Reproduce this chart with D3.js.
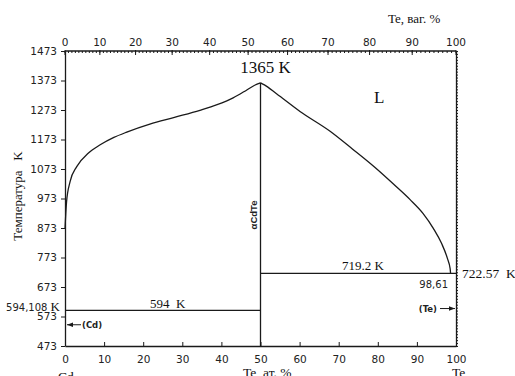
<!DOCTYPE html>
<html>
<head>
<meta charset="utf-8">
<script src="https://cdn.jsdelivr.net/npm/d3@7"></script>
<style>
  html, body { margin: 0; padding: 0; background: #fff; }
  svg { display: block; }
  .serif { font-family: "Liberation Serif", "Times New Roman", serif; fill: #111; }
  .sans { font-family: "DejaVu Sans", sans-serif; fill: #222; }
</style>
</head>
<body>
<svg id="chart" width="515" height="376"></svg>
<script>
// Cd–Te phase diagram: composition in at.% Te (bottom) and wt.% Te (top)
const atTicks = [0, 10, 20, 30, 40, 50, 60, 70, 80, 90, 100];
const wtTicks = [0, 10, 20, 30, 40, 50, 60, 70, 80, 90, 100];
const tempTicks = [473, 573, 673, 773, 873, 973, 1073, 1173, 1273, 1373, 1473];

// liquidus, Cd-rich branch (at.% Te, K)
const liqCdAt = [0, 0.4, 1.3, 3.0, 6.0, 9.0, 12.5, 15.8, 21.7, 28, 34.5, 38.9, 43, 46.5, 48.5, 50];
const liqCdT  = [870, 962, 1030, 1081, 1127, 1155, 1180, 1198, 1225, 1248, 1272, 1291, 1314, 1341, 1357, 1365];
// liquidus, Te-rich branch (at.% Te, K)
const liqTeAt = [50, 51, 54.1, 60.1, 67.8, 73.5, 79.3, 84.0, 88.2, 91.6, 94.2, 96.3, 97.8, 98.5, 98.61];
const liqTeT  = [1365, 1358, 1328, 1268, 1201, 1141, 1078, 1022, 970, 922, 872, 821, 770, 735, 719.2];

// invariant points
const compoundAt = 50, compoundT = 1365;
const cdEutecticT = 594, cdMeltLabel = "594,108";
const teEutecticT = 719.2, teEutecticAt = 98.61, teMeltT = 722.57;

// atomic masses for wt.% -> at.% conversion of the top scale
const massCd = 112.41, massTe = 127.60;
const wtToAt = w => 100 * (w / massTe) / (w / massTe + (100 - w) / massCd);

const svg = d3.select("#chart");
const x = d3.scaleLinear().domain([0, 100]).range([65, 456]);
const y = d3.scaleLinear().domain([473, 1473]).range([346, 51]);

const ink = "#1a1a1a";

// arrow head
svg.append("defs").append("marker")
  .attr("id", "head").attr("viewBox", "0 0 8 6").attr("refX", 8).attr("refY", 3)
  .attr("markerWidth", 6).attr("markerHeight", 5).attr("orient", "auto")
  .append("path").attr("d", "M0,0L8,3L0,6Z").attr("fill", ink);

// ---- axes ----
function styleAxis(g) {
  g.selectAll("path.domain").attr("stroke", ink).attr("stroke-width", 1.3);
  g.selectAll(".tick line").attr("stroke", ink).attr("stroke-width", 1);
}
const minorAt = d3.range(0, 101, 1);
const minorT = d3.range(473, 1474, 10);

// bottom (at.%)
const gB = svg.append("g").attr("transform", `translate(0,${y(473)})`);
gB.call(d3.axisBottom(x).tickValues(minorAt).tickSize(-2).tickFormat(""));
gB.call(d3.axisBottom(x).tickValues(atTicks).tickSizeInner(-4).tickSizeOuter(0).tickPadding(10).tickFormat(d3.format("d")));
styleAxis(gB);
gB.selectAll(".tick text").attr("class", "sans").attr("font-size", 10.5).style("font-family", "DejaVu Sans");

// left (temperature)
const gL = svg.append("g").attr("transform", `translate(${x(0)},0)`);
gL.call(d3.axisLeft(y).tickValues(minorT).tickSize(2).tickFormat(""));
gL.call(d3.axisLeft(y).tickValues(tempTicks).tickSizeInner(4).tickSizeOuter(0).tickPadding(4).tickFormat(d3.format("d")));
styleAxis(gL);
gL.selectAll(".tick text").style("font-family", "DejaVu Sans").attr("font-size", 10.5).attr("fill", "#222");

// right frame
const gR = svg.append("g").attr("transform", `translate(${x(100)},0)`);
gR.call(d3.axisRight(y).tickValues(minorT).tickSize(2).tickSizeOuter(0).tickFormat(""));
styleAxis(gR);

// top (wt.%), positioned through the at.% scale
const gT = svg.append("g");
gT.append("line").attr("x1", x(0)).attr("x2", x(100)).attr("y1", y(1473)).attr("y2", y(1473))
  .attr("stroke", ink).attr("stroke-width", 1.3);
gT.selectAll("line.minor").data(d3.range(0, 101, 1)).join("line").attr("class", "minor")
  .attr("x1", d => x(wtToAt(d))).attr("x2", d => x(wtToAt(d)))
  .attr("y1", y(1473)).attr("y2", y(1473) + 2).attr("stroke", ink).attr("stroke-width", 1);
gT.selectAll("line.major").data(wtTicks).join("line").attr("class", "major")
  .attr("x1", d => x(wtToAt(d))).attr("x2", d => x(wtToAt(d)))
  .attr("y1", y(1473) - 1).attr("y2", y(1473) + 4).attr("stroke", ink).attr("stroke-width", 1);
gT.selectAll("text").data(wtTicks).join("text")
  .attr("class", "sans").attr("font-size", 10.5).attr("text-anchor", "middle")
  .attr("x", d => x(wtToAt(d))).attr("y", y(1473) - 5).text(d => d);

// ---- phase boundaries ----
const line = d3.line().x(d => x(d[0])).y(d => y(d[1])).curve(d3.curveMonotoneX);
const liqCd = liqCdAt.map((a, i) => [a, liqCdT[i]]);
const liqTe = liqTeAt.map((a, i) => [a, liqTeT[i]]);
[liqCd, liqTe].forEach(pts => svg.append("path").attr("d", line(pts))
  .attr("fill", "none").attr("stroke", ink).attr("stroke-width", 1.3));

// CdTe compound line
svg.append("line").attr("x1", x(compoundAt)).attr("x2", x(compoundAt))
  .attr("y1", y(compoundT)).attr("y2", y(473)).attr("stroke", ink).attr("stroke-width", 1.3);
// Cd-side eutectic / Te-side eutectic
svg.append("line").attr("x1", x(0)).attr("x2", x(compoundAt))
  .attr("y1", y(cdEutecticT)).attr("y2", y(cdEutecticT)).attr("stroke", ink).attr("stroke-width", 1.3);
svg.append("line").attr("x1", x(compoundAt)).attr("x2", x(100))
  .attr("y1", y(teEutecticT)).attr("y2", y(teEutecticT)).attr("stroke", ink).attr("stroke-width", 1.3);

// ---- labels ----
svg.append("text").attr("class", "serif").attr("font-size", 17).attr("text-anchor", "middle")
  .attr("x", x(compoundAt) + 5).attr("y", 73).text(`${compoundT} K`);
svg.append("text").attr("class", "serif").attr("font-size", 17)
  .attr("x", 374).attr("y", 103).text("L");
svg.append("text").attr("class", "serif").attr("font-size", 13)
  .attr("x", 388).attr("y", 23).text("Te, ваг. %");

svg.append("text").attr("class", "serif").attr("font-size", 13).attr("text-anchor", "middle")
  .attr("transform", `translate(22,196) rotate(-90)`).style("white-space", "pre")
  .text("Температура   K");

svg.append("text").attr("class", "sans").attr("font-weight", "bold").attr("font-size", 9.5)
  .attr("text-anchor", "middle").style("font-family", "Liberation Sans")
  .attr("transform", `translate(${x(compoundAt) - 4},215) rotate(-90)`).text("αCdTe");

const cdLbl = svg.append("text").attr("x", 60).attr("y", y(cdEutecticT) + 1).attr("text-anchor", "end");
cdLbl.append("tspan").attr("class", "sans").attr("font-size", 10).text(cdMeltLabel + " ");
cdLbl.append("tspan").attr("class", "serif").attr("font-size", 13).text("K");

svg.append("text").attr("class", "serif").attr("font-size", 13).style("white-space", "pre")
  .attr("x", 150).attr("y", y(cdEutecticT) - 2).text(`${cdEutecticT}  K`);
svg.append("text").attr("class", "serif").attr("font-size", 13)
  .attr("x", 342).attr("y", y(teEutecticT) - 3).text(`${teEutecticT} K`);
svg.append("text").attr("class", "serif").attr("font-size", 13.5).style("white-space", "pre")
  .attr("x", 462).attr("y", y(teEutecticT) + 5).text(`${teMeltT}  K`);
svg.append("text").attr("class", "sans").attr("font-size", 10).attr("text-anchor", "end")
  .attr("x", 448).attr("y", y(teEutecticT) + 15).text(String(teEutecticAt).replace(".", ","));

// pure-element markers
const cdArrowY = y(545);
svg.append("line").attr("x1", 81).attr("x2", 67).attr("y1", cdArrowY).attr("y2", cdArrowY)
  .attr("stroke", ink).attr("stroke-width", 1).attr("marker-end", "url(#head)");
svg.append("text").attr("class", "sans").attr("font-weight", "bold").attr("font-size", 8.5)
  .attr("x", 82).attr("y", cdArrowY + 3).text("(Cd)");
const teArrowY = y(600);
svg.append("line").attr("x1", 440).attr("x2", 455).attr("y1", teArrowY).attr("y2", teArrowY)
  .attr("stroke", ink).attr("stroke-width", 1).attr("marker-end", "url(#head)");
svg.append("text").attr("class", "sans").attr("font-weight", "bold").attr("font-size", 8.5)
  .attr("text-anchor", "end").attr("x", 437).attr("y", teArrowY + 3).text("(Te)");

// bottom captions
svg.append("text").attr("class", "serif").attr("font-size", 13.5)
  .attr("x", 243).attr("y", 377).text("Te, ат. %");
svg.append("text").attr("class", "serif").attr("font-size", 13.5)
  .attr("x", 58).attr("y", 381).text("Cd");
svg.append("text").attr("class", "serif").attr("font-size", 13.5)
  .attr("x", 452).attr("y", 377).text("Te");
</script>
</body>
</html>
